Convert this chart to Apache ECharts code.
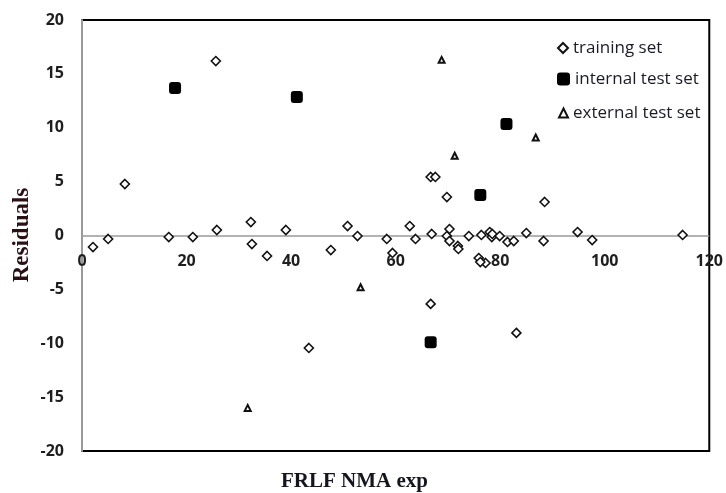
<!DOCTYPE html>
<html>
<head>
<meta charset="utf-8">
<script src="https://cdn.jsdelivr.net/npm/echarts@6/dist/echarts.min.js"></script>
<style>html,body{margin:0;padding:0;background:#fff;}#chart{width:726px;height:493px;}</style>
</head>
<body>
<div id="chart"></div>
<script>
// ---- data ----
const xTicks = [0, 20, 40, 60, 80, 100, 120];
const yTicks = [-20, -15, -10, -5, 0, 5, 10, 15, 20];
const seriesNames = ['training set', 'internal test set', 'external test set'];
const xTitle = 'FRLF NMA exp';
const yTitle = 'Residuals';

const trainX = [2.1, 5.0, 8.2, 16.6, 21.2, 25.8, 25.6, 32.3, 32.5, 35.4, 39.0, 47.6, 50.8, 52.7, 58.3, 59.4, 62.7, 63.8, 43.4, 66.7, 67.6, 66.9, 66.7, 69.8, 69.8, 70.3, 70.3, 71.9, 72.0, 74.0, 76.4, 78.0, 78.4, 78.5, 79.9, 81.4, 82.6, 85.0, 88.3, 88.5, 75.9, 77.2, 76.2, 83.1, 94.8, 97.6, 114.9];
const trainY = [-1.07, -0.32, 4.78, -0.14, -0.14, 0.51, 16.19, 1.25, -0.79, -1.90, 0.51, -1.35, 0.88, -0.05, -0.32, -1.62, 0.88, -0.32, -10.44, 5.43, 5.43, 0.14, -6.35, 3.57, -0.05, 0.60, -0.51, -0.97, -1.25, -0.05, 0.05, 0.32, -0.14, 0.14, -0.05, -0.60, -0.51, 0.23, -0.51, 3.11, -2.09, -2.55, -2.46, -9.04, 0.32, -0.42, 0.05];

const internalX = [17.8, 41.1, 81.2, 76.2, 66.7];
const internalY = [13.7, 12.85, 10.35, 3.75, -9.9];

const externalX = [68.8, 71.3, 86.8, 53.3, 31.7];
const externalY = [16.3, 7.4, 9.1, -4.8, -16.0];

const zeroLine = 0;

const pairs = (xs, ys) => xs.map((x, i) => [x, ys[i]]);

const chart = echarts.init(document.getElementById('chart'));
const tickFont = { fontFamily: 'Open Sans', fontWeight: 'bold', fontSize: 16, color: '#1e1e1e' };
const legendText = { fontFamily: 'Open Sans', fontSize: 17, color: '#1a1a28', lineHeight: 18 };

chart.setOption({
  animation: false,
  backgroundColor: '#fff',
  grid: { left: 82, right: 16, top: 20, bottom: 42, show: true, borderColor: '#000', borderWidth: 2, backgroundColor: 'transparent' },
  xAxis: {
    type: 'value', min: xTicks[0], max: xTicks[xTicks.length - 1], interval: xTicks[1] - xTicks[0],
    axisLine: { show: false, onZero: false },
    axisTick: { show: false },
    splitLine: { show: false },
    axisLabel: Object.assign({ margin: -198 }, tickFont)
  },
  yAxis: {
    type: 'value', min: yTicks[0], max: yTicks[yTicks.length - 1], interval: yTicks[1] - yTicks[0],
    axisLine: { show: true, onZero: false, lineStyle: { color: '#9a9a9a', width: 2 } },
    axisTick: { show: false },
    splitLine: { show: false },
    axisLabel: Object.assign({ margin: 18 }, tickFont)
  },
  legend: [
    { data: [seriesNames[0]], orient: 'vertical', left: 552, top: 34, itemWidth: 10, itemHeight: 10, itemGap: 0, textStyle: legendText },
    { data: [seriesNames[1]], orient: 'vertical', left: 552, top: 65, itemWidth: 13, itemHeight: 13, itemGap: 0, textStyle: legendText },
    { data: [seriesNames[2]], orient: 'vertical', left: 553, top: 99, itemWidth: 9, itemHeight: 9, itemGap: 0, textStyle: legendText }
  ],
  graphic: [
    { type: 'text', left: 353 - 72, top: 471, style: { text: xTitle, font: 'bold 21px "Liberation Serif"', fill: '#15151f' } },
    { type: 'text', x: 22, y: 235, rotation: Math.PI / 2, style: { text: yTitle, font: 'bold 23px "Liberation Serif"', fill: '#2a1015', align: 'center', verticalAlign: 'middle' } }
  ],
  series: [
    { name: seriesNames[0], type: 'scatter', symbol: 'diamond', symbolSize: 9, data: pairs(trainX, trainY), z: 3,
      itemStyle: { color: '#fff', borderColor: '#111', borderWidth: 1.6, opacity: 1 },
      markLine: { silent: true, symbol: ['none', 'none'], label: { show: false }, z: 1,
        lineStyle: { color: '#9a9a9a', width: 1.5, type: 'solid' }, data: [{ yAxis: zeroLine }] } },
    { name: seriesNames[1], type: 'scatter', symbol: 'roundRect', symbolSize: 12, data: pairs(internalX, internalY), z: 3,
      itemStyle: { color: '#000', borderColor: '#000', borderWidth: 0, opacity: 1 } },
    { name: seriesNames[2], type: 'scatter', symbol: 'triangle', symbolSize: 6, data: pairs(externalX, externalY), z: 3,
      itemStyle: { color: '#fff', borderColor: '#111', borderWidth: 2, opacity: 1 } }
  ]
});
</script>
</body>
</html>
